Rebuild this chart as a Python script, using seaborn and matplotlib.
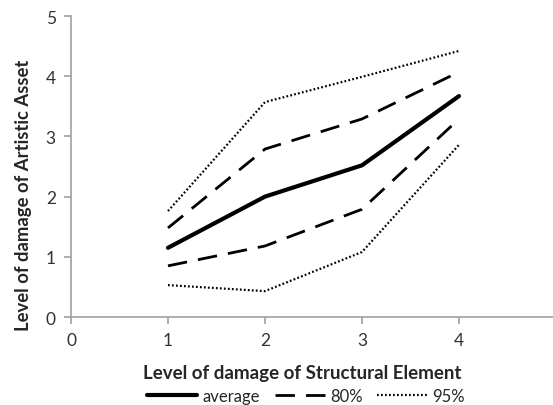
import seaborn as sns
import matplotlib.pyplot as plt
import pandas as pd

# values
damage_structural = [1, 2, 3, 4]
average = [1.15, 2.0, 2.52, 3.67]
upper_80 = [1.48, 2.79, 3.29, 4.07]
lower_80 = [0.85, 1.18, 1.79, 3.29]
upper_95 = [1.76, 3.57, 3.99, 4.42]
lower_95 = [0.53, 0.43, 1.08, 2.86]

sns.set_style("white")
plt.rcParams['font.family'] = ['Lato', 'DejaVu Sans']

fig = plt.figure(figsize=(5.53, 4.06), dpi=100)
ax = fig.add_axes([0.1284, 0.2167, 0.877, 0.7414])

sns.lineplot(x=damage_structural, y=average, ax=ax, color='black', lw=3.0,
             label='average')
sns.lineplot(x=damage_structural, y=upper_80, ax=ax, color='black', lw=2.0,
             label='80%')
sns.lineplot(x=damage_structural, y=lower_80, ax=ax, color='black', lw=2.0)
sns.lineplot(x=damage_structural, y=upper_95, ax=ax, color='black', lw=1.6,
             label='95%')
sns.lineplot(x=damage_structural, y=lower_95, ax=ax, color='black', lw=1.6)

lines = ax.get_lines()
for ln in lines[1:3]:
    ln.set_linestyle((0, (7, 4)))
for ln in lines[3:5]:
    ln.set_linestyle((0, (0.8, 1.0)))

ax.set_xlim(0, 5)
ax.set_ylim(0, 5)
ax.set_xticks([0, 1, 2, 3, 4, 5])
ax.set_yticks([0, 1, 2, 3, 4, 5])
for s in ['top', 'right']:
    ax.spines[s].set_visible(False)
for s in ['left', 'bottom']:
    ax.spines[s].set_color('#a0a0a0')
    ax.spines[s].set_linewidth(1.2)
ax.tick_params(axis='both', length=5, width=1.2, color='#a0a0a0',
               labelsize=12.5, labelcolor='#333333', direction='out',
               bottom=True, left=True, pad=6)

ax.set_xlabel('Level of damage of Structural Element', fontsize=13.5,
              fontweight='bold')
ax.set_ylabel('Level of damage of Artistic Asset', fontsize=13.3,
              fontweight='bold')
ax.xaxis.set_label_coords(0.476, -0.157)
ax.yaxis.set_label_coords(-0.08, 0.409)

handles, labels = ax.get_legend_handles_labels()
ax.legend(handles, labels, loc='center', bbox_to_anchor=(0.485, -0.262),
          ncol=3, frameon=False, fontsize=12, handlelength=3.0,
          columnspacing=0.9, handletextpad=0.3)

fig.savefig('out.png', dpi=100)
